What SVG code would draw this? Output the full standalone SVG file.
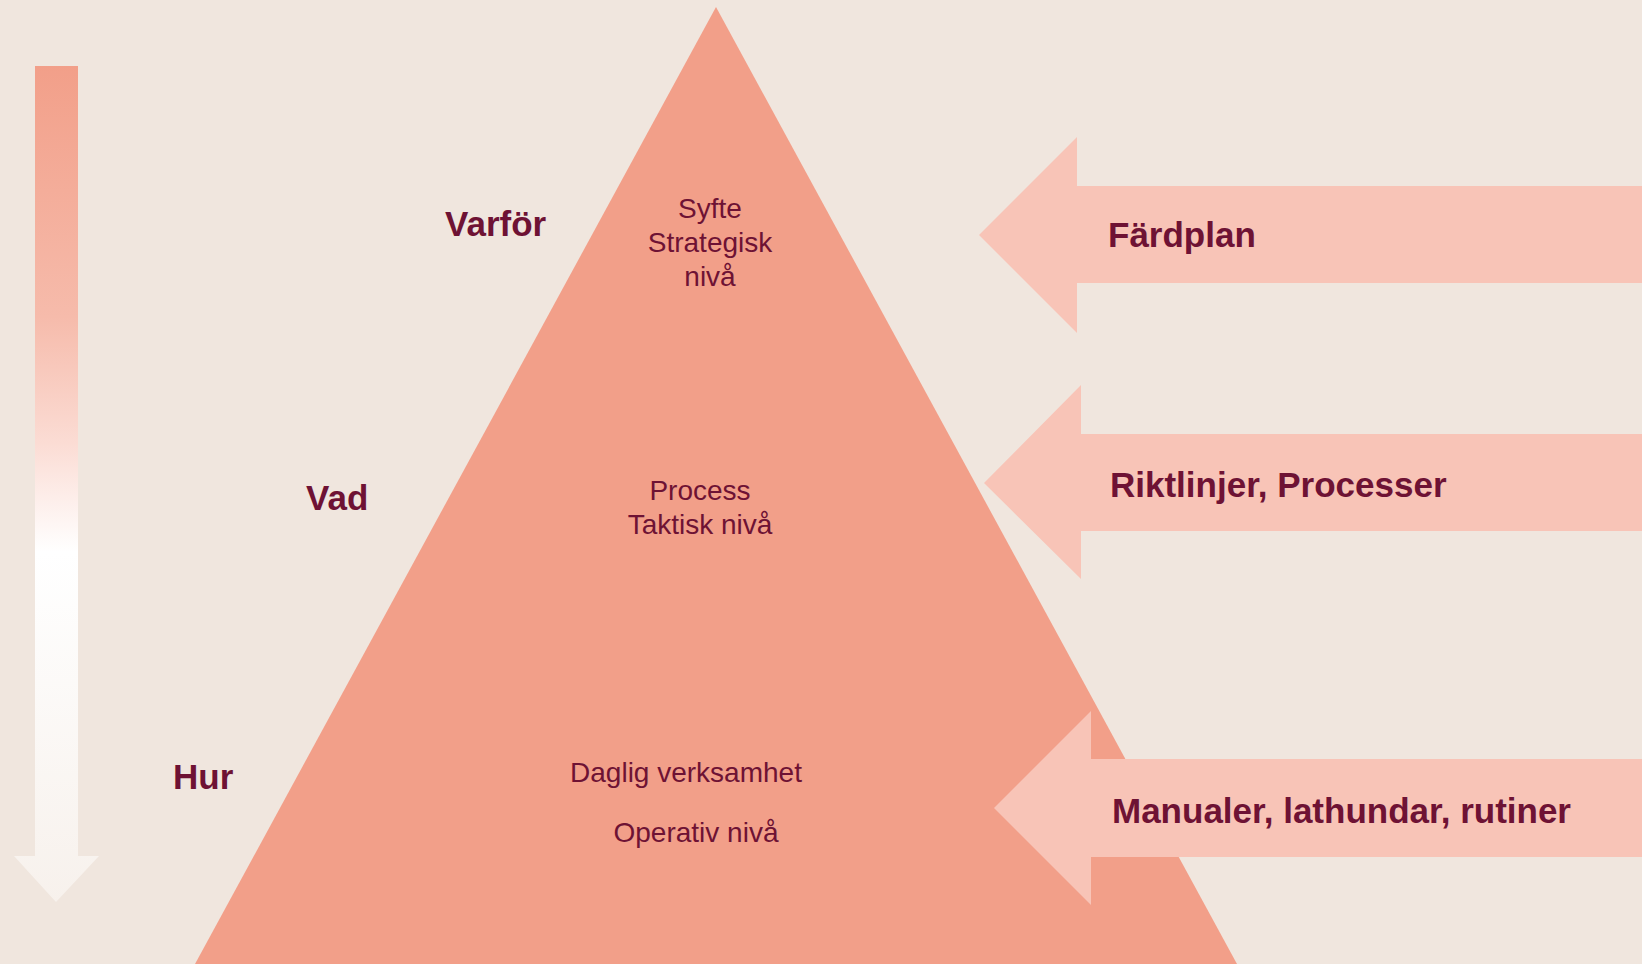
<svg xmlns="http://www.w3.org/2000/svg" width="1642" height="964" viewBox="0 0 1642 964">
  <style>
    .bg { fill: #F0E6DE; }
    .tri { fill: #F29F89; }
    .arr { fill: #F8C4B7; }
    .lbl { font-family: "Liberation Sans", Arial, sans-serif; font-weight: bold; font-size: 35px; fill: #6E1234; }
    .lvl { font-family: "Liberation Sans", Arial, sans-serif; font-size: 28px; fill: #6E1234; text-anchor: middle; }
  </style>
  <defs>
    <linearGradient id="fade" x1="0" y1="65" x2="0" y2="905" gradientUnits="userSpaceOnUse">
      <stop offset="0" stop-color="#F29F89"/>
      <stop offset="0.3" stop-color="#F6BBAB"/>
      <stop offset="0.45" stop-color="#FBDCD4"/>
      <stop offset="0.58" stop-color="#FFFFFF"/>
      <stop offset="1" stop-color="#F7F1EC"/>
    </linearGradient>
  </defs>
  <rect class="bg" x="0" y="0" width="1642" height="964"/>

  <g id="direction-arrow">
    <path d="M35,66 H78 V856 H99 L56,902 L14,856 H35 Z" fill="url(#fade)"/>
  </g>

  <g id="pyramid">
    <polygon class="tri" points="716,7 195,964 1237,964"/>
  </g>

  <g id="level-strategic">
    <text class="lvl" x="710" y="218">Syfte</text>
    <text class="lvl" x="710" y="252">Strategisk</text>
    <text class="lvl" x="710" y="286">nivå</text>
  </g>
  <g id="level-tactical">
    <text class="lvl" x="700" y="500">Process</text>
    <text class="lvl" x="700" y="534">Taktisk nivå</text>
  </g>
  <g id="level-operative">
    <text class="lvl" x="686" y="782">Daglig verksamhet</text>
    <text class="lvl" x="696" y="842">Operativ nivå</text>
  </g>

  <g id="label-varfor"><text class="lbl" x="445" y="236">Varför</text></g>
  <g id="label-vad"><text class="lbl" x="306" y="510">Vad</text></g>
  <g id="label-hur"><text class="lbl" x="173" y="789">Hur</text></g>

  <g id="connectors">
    <g id="arrow-fardplan">
      <polygon class="arr" points="979,235 1077,137 1077,186 1642,186 1642,283 1077,283 1077,333"/>
      <text class="lbl" x="1108" y="247">Färdplan</text>
    </g>
    <g id="arrow-riktlinjer">
      <polygon class="arr" points="984,483 1081,385 1081,434 1642,434 1642,531 1081,531 1081,579"/>
      <text class="lbl" x="1110" y="497">Riktlinjer, Processer</text>
    </g>
    <g id="arrow-manualer">
      <polygon class="arr" points="994,808 1091,711 1091,759 1642,759 1642,857 1091,857 1091,905"/>
      <text class="lbl" x="1112" y="823">Manualer, lathundar, rutiner</text>
    </g>
  </g>
</svg>
